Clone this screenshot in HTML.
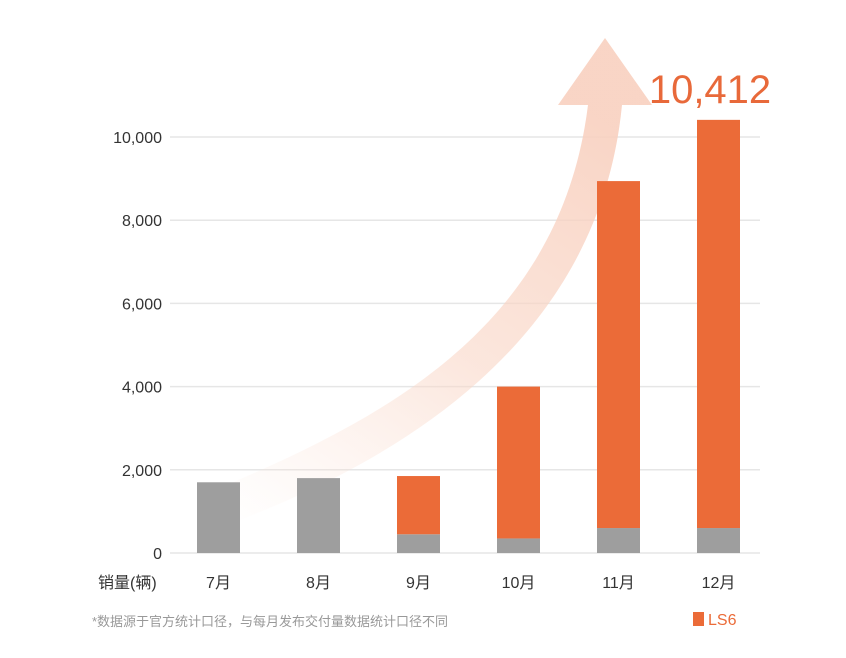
<!DOCTYPE html>
<html><head><meta charset="utf-8"><style>
body{margin:0;background:#fff;}
svg{display:block;font-family:"Liberation Sans","Noto Sans CJK SC",sans-serif;}
</style></head><body>
<svg id="chart" width="846" height="658" viewBox="0 0 846 658">
<defs>
<linearGradient id="ag" x1="0" y1="1" x2="0.6" y2="0">
<stop offset="0" stop-color="#fbe3d8" stop-opacity="0"/>
<stop offset="0.5" stop-color="#f9d6c6" stop-opacity="0.6"/>
<stop offset="1" stop-color="#f8d0bf" stop-opacity="0.9"/>
</linearGradient>
</defs>
<g id="grid"></g>
<path fill="url(#ag)" d="M215,490 C380,420 560,330 588,105 L558,105 L605,38 L652,105 L622,105 C600,330 420,450 240,520 Z"/>
<g id="bars"></g>
<g id="labels"></g>
<text x="710" y="103" fill="#e8693a" font-size="40" text-anchor="middle">10,412</text>
<text x="98" y="588" fill="#333" font-size="16">销量(辆)</text>
<text x="92" y="626" fill="#999" font-size="13">*数据源于官方统计口径，与每月发布交付量数据统计口径不同</text>
<rect x="693" y="612" width="11" height="14" fill="#eb6b38"/>
<text x="708" y="625" fill="#eb6b38" font-size="16">LS6</text>
</svg>
<script>
const months=["7月","8月","9月","10月","11月","12月"];
const baseSeries=[1700,1800,450,350,600,600];
const ls6Series=[0,0,1400,3650,8340,9812];
const yTicks=[0,2000,4000,6000,8000,10000];
const yTickLabels=["0","2,000","4,000","6,000","8,000","10,000"];
const svgNS="http://www.w3.org/2000/svg";
const y=v=>553-v*0.0416;
const x=i=>197+i*100;
const bw=43;
function mk(tag,attrs,parent){const e=document.createElementNS(svgNS,tag);for(const k in attrs)e.setAttribute(k,attrs[k]);parent.appendChild(e);return e;}
const grid=document.getElementById('grid'),bars=document.getElementById('bars'),labels=document.getElementById('labels');
yTicks.forEach((t,i)=>{
 const l=mk('line',{x1:170,x2:760,y1:y(t),y2:y(t),stroke:'#e6e6e6','stroke-width':1.5},grid);
 
 
 const tx=mk('text',{x:162,y:y(t)+6,'text-anchor':'end','font-size':16,fill:'#333'},labels);
 tx.textContent=yTickLabels[i];
 
 
});
months.forEach((m,i)=>{
 const b=baseSeries[i],o=ls6Series[i];
 const r1=mk('rect',{x:x(i),y:y(b),width:bw,height:y(0)-y(b),fill:'#9e9e9e'},bars);
 
 
 if(o>0){
  const r2=mk('rect',{x:x(i),y:y(b+o),width:bw,height:y(b)-y(b+o),fill:'#eb6b38'},bars);
  
  
 }
 const t=mk('text',{x:x(i)+bw/2,y:588,'text-anchor':'middle','font-size':16,fill:'#333'},labels);
 t.textContent=m;
 
 
});
</script>
</body></html>
